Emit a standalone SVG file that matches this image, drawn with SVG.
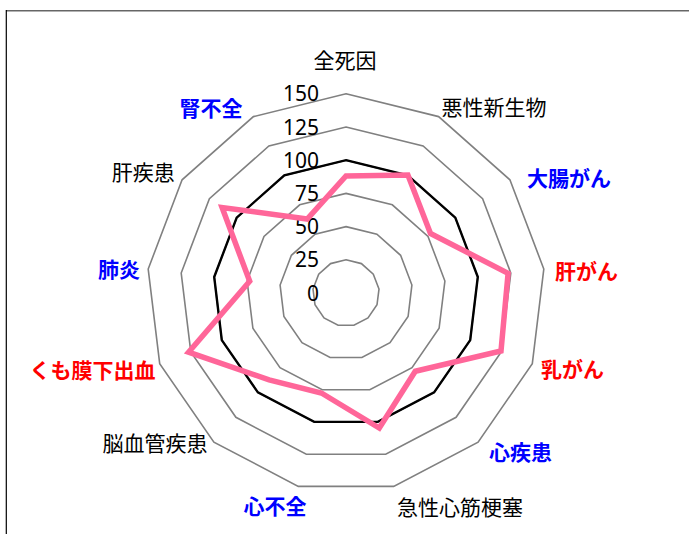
<svg xmlns="http://www.w3.org/2000/svg" width="689" height="534" viewBox="0 0 689 534">
<style>
.ring{fill:none;stroke:#808080;stroke-width:1.6;stroke-linejoin:miter}
.base{fill:none;stroke:#000;stroke-width:2.4}
.data{fill:none;stroke:#ff6699;stroke-width:5.5;stroke-linejoin:miter}
.tick{font-family:"Noto Sans","DejaVu Sans",sans-serif;font-size:21px;fill:#000;text-anchor:end}
.lab{font-family:"Noto Sans CJK JP","Noto Sans",sans-serif;font-size:21px;text-anchor:middle;fill:#000}
.b{font-weight:bold}
.blue{fill:#0000ff}
.red{fill:#ff0000}
</style>
<rect x="0" y="0" width="689" height="534" fill="#fff"/>
<g id="frame">
<line x1="6" y1="10.8" x2="689" y2="10.8" stroke="#666" stroke-width="1.6"/>
<line x1="6.3" y1="10" x2="6.3" y2="534" stroke="#000" stroke-width="1.2"/>
</g>
<g id="grid">
<polygon class="ring" points="346,259.8 361.4,263.6 373.3,274.1 379,289 377,304.8 368,317.9 353.9,325.2 338.1,325.2 324,317.9 315,304.8 313,289 318.7,274.1 330.6,263.6"/>
<polygon class="ring" points="346,226.6 376.9,234.2 400.6,255.3 411.9,285 408.1,316.5 390,342.7 361.9,357.5 330.1,357.5 302,342.7 283.9,316.5 280.1,285 291.4,255.3 315.1,234.2"/>
<polygon class="ring" points="346,193.4 392.3,204.8 428,236.4 444.9,281 439.1,328.3 412,367.6 369.8,389.7 322.2,389.7 280,367.6 252.9,328.3 247.1,281 264,236.4 299.7,204.8"/>
<polygon class="ring" points="346,160.2 407.7,175.4 455.3,217.6 477.8,277 470.2,340.1 434.1,392.4 377.8,421.9 314.2,421.9 257.9,392.4 221.8,340.1 214.2,277 236.7,217.6 284.3,175.4"/>
<polygon class="ring" points="346,127 423.1,146 482.6,198.7 510.8,273 501.2,351.9 456.1,417.3 385.7,454.2 306.3,454.2 235.9,417.3 190.8,351.9 181.2,273 209.4,198.7 268.9,146"/>
<polygon class="ring" points="346,93.8 438.6,116.6 509.9,179.8 543.8,269 532.3,363.6 478.1,442.1 393.7,486.4 298.3,486.4 213.9,442.1 159.7,363.6 148.2,269 182.1,179.8 253.4,116.6"/>
</g>
<g id="ticks">
<text class="tick" x="319" y="300.5">0</text>
<text class="tick" x="319" y="267.3">25</text>
<text class="tick" x="319" y="234.1">50</text>
<text class="tick" x="319" y="200.9">75</text>
<text class="tick" x="319" y="167.7">100</text>
<text class="tick" x="319" y="134.5">125</text>
<text class="tick" x="319" y="101.3">150</text>
</g>
<g id="series">
<polygon class="base" points="346,160.2 407.7,175.4 455.3,217.6 477.8,277 470.2,340.1 434.1,392.4 377.8,421.9 314.2,421.9 257.9,392.4 221.8,340.1 214.2,277 236.7,217.6 284.3,175.4"/>
<polygon class="data" points="346,176 407.9,175 430.5,233.5 508.1,273.3 501,351 415.3,371.2 379.3,428 321.4,393 269.1,379.8 188.6,352.2 249.7,281.3 222.1,207.5 307.2,219"/>
</g>
<g id="labels">
<g id="n0"><text class="lab" x="345" y="67.5">全死因</text></g>
<g id="n1"><text class="lab" x="494" y="114.5">悪性新生物</text></g>
<g id="n2"><text class="lab b blue" x="569" y="185.5">大腸がん</text></g>
<g id="n3"><text class="lab b red" x="586.5" y="278.5">肝がん</text></g>
<g id="n4"><text class="lab b red" x="572.5" y="376.5">乳がん</text></g>
<g id="n5"><text class="lab b blue" x="520.5" y="459.5">心疾患</text></g>
<g id="n6"><text class="lab" x="460" y="515">急性心筋梗塞</text></g>
<g id="n7"><text class="lab b blue" x="275" y="514">心不全</text></g>
<g id="n8"><text class="lab" x="155" y="450.5">脳血管疾患</text></g>
<g id="n9"><text class="lab b red" x="92.5" y="377.5">くも膜下出血</text></g>
<g id="n10"><text class="lab b blue" x="119" y="276.5">肺炎</text></g>
<g id="n11"><text class="lab" x="143.3" y="179.5">肝疾患</text></g>
<g id="n12"><text class="lab b blue" x="211" y="116">腎不全</text></g>
</g>
</svg>
